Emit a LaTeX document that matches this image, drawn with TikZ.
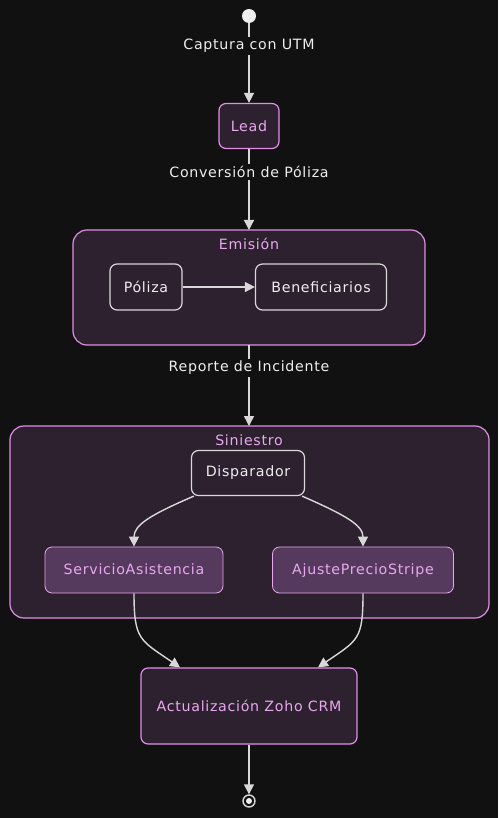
\documentclass[tikz,border=0pt]{standalone}
\usepackage{fontspec}
\setmainfont{DejaVu Sans}[LetterSpace=5]
\usetikzlibrary{arrows.meta}
\definecolor{bg}{HTML}{111111}
\definecolor{clfill}{HTML}{2D2130}
\definecolor{pinkline}{HTML}{E28EE8}
\definecolor{pinktext}{HTML}{E7A8EE}
\definecolor{subfill}{HTML}{553A5E}
\definecolor{greyline}{HTML}{D8D8D8}
\definecolor{lighttext}{HTML}{EEEEEE}
\tikzset{
  cluster/.style={draw=pinkline, fill=clfill, line width=1.2pt, rounded corners=14pt},
  leadbox/.style={draw=pinkline, fill=clfill, line width=1.2pt, rounded corners=7pt, text=pinktext, minimum height=45pt},
  plainbox/.style={draw=greyline, fill=clfill, line width=1.2pt, rounded corners=7pt, text=lighttext, minimum height=46pt},
  subbox/.style={draw=pinktext, fill=subfill, line width=0.8pt, rounded corners=7pt, text=pinktext, minimum height=46pt, text height=12.5pt, text depth=3pt},
  flow/.style={draw=greyline, line width=1.4pt, -{Triangle[length=10pt,width=10pt]}},
  edgelabel/.style={text=lighttext, fill=bg, inner sep=2pt},
}
\begin{document}
\begin{tikzpicture}[x=1pt, y=-1pt, font=\fontsize{14.2}{16}\selectfont]
  \fill[bg] (0,0) rectangle (498,818);
  \useasboundingbox (0,0) rectangle (498,818);
  % clusters
  \draw[cluster] (73,230) rectangle (425,345);
  \node[text=pinktext] at (249,244) {Emisión};
  \draw[cluster] (10,426) rectangle (489,618);
  \node[text=pinktext] at (249,440) {Siniestro};
  % start and end
  \node[circle, fill=lighttext, minimum size=14pt, inner sep=0pt] (start) at (249,16) {};
  \node[circle, draw=greyline, line width=1.4pt, minimum size=12pt, inner sep=0pt] (end) at (249,801) {};
  \fill[lighttext] (end.center) circle[radius=3pt];
  % nodes
  \node[leadbox, minimum width=60pt] (lead) at (249,126) {Lead};
  \node[plainbox, minimum width=72pt] (poliza) at (146,287) {Póliza};
  \node[plainbox, minimum width=131pt] (benef) at (321,287) {Beneficiarios};
  \node[plainbox, minimum width=113pt, minimum height=45pt] (disp) at (248,473) {Disparador};
  \node[subbox, minimum width=178pt] (servicio) at (134,570) {ServicioAsistencia};
  \node[subbox, minimum width=181pt] (ajuste) at (363,570) {AjustePrecioStripe};
  \node[leadbox, minimum width=216pt, minimum height=76pt] (zoho) at (249,706) {Actualización Zoho CRM};
  % connectors
  \coordinate (emtop) at (249,230);
  \coordinate (embot) at (249,345);
  \coordinate (sitop) at (249,426);
  \draw[flow] (start) -- (lead);
  \node[edgelabel] at (249,46) {Captura con UTM};
  \draw[flow] (lead) -- (emtop);
  \node[edgelabel] at (249,172) {Conversión de Póliza};
  \draw[flow] (poliza) -- (benef);
  \draw[flow] (embot) -- (sitop);
  \node[edgelabel] at (249,368) {Reporte de Incidente};
  \draw[flow] (disp.south west) ++(3,0) .. controls (150,515) and (134,525) .. (servicio.north);
  \draw[flow] (disp.south east) ++(-3,0) .. controls (345,515) and (363,525) .. (ajuste.north);
  \draw[flow] (servicio.south) .. controls (134,640) and (140,640) .. ([xshift=-69pt]zoho.north);
  \draw[flow] (ajuste.south) .. controls (363,640) and (358,640) .. ([xshift=69pt]zoho.north);
  \draw[flow] (zoho) -- (end);
\end{tikzpicture}
\end{document}
